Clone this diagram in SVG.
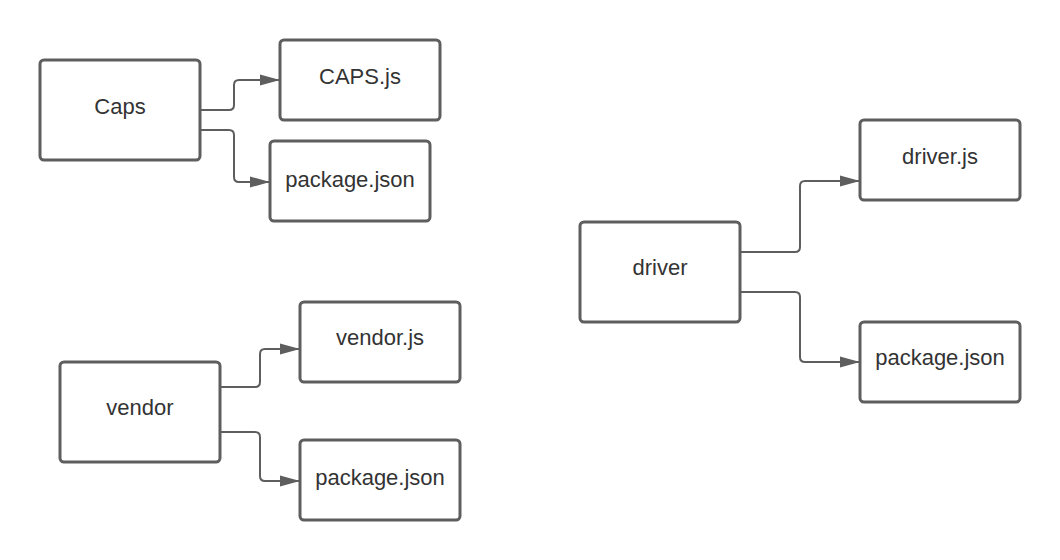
<svg xmlns="http://www.w3.org/2000/svg" width="1060" height="560" viewBox="0 0 1060 560">
<style>
.box{fill:#ffffff;stroke:#5e5e5e;stroke-width:3}
.lbl{font-family:"Liberation Sans",Arial,sans-serif;font-size:22px;fill:#333333;text-anchor:middle}
.edge{fill:none;stroke:#5e5e5e;stroke-width:2;stroke-linejoin:round}
</style>
<defs>
<marker id="arr" markerWidth="20" markerHeight="12" refX="20" refY="6" orient="auto" markerUnits="userSpaceOnUse">
<path d="M0,0.5 L20,6 L0,11.5 Z" fill="#5e5e5e"/>
</marker>
</defs>
<rect width="1060" height="560" fill="#ffffff"/>
<g id="connectors">
<path class="edge" marker-end="url(#arr)" d="M200,110 H229 Q234,110 234,105 V85 Q234,80 239,80 H280"/>
<path class="edge" marker-end="url(#arr)" d="M200,130 H229 Q234,130 234,135 V177 Q234,182 239,182 H270"/>
<path class="edge" marker-end="url(#arr)" d="M220,387 H255 Q260,387 260,382 V354 Q260,349 265,349 H300"/>
<path class="edge" marker-end="url(#arr)" d="M220,432 H255 Q260,432 260,437 V476 Q260,481 265,481 H300"/>
<path class="edge" marker-end="url(#arr)" d="M740,252 H795 Q800,252 800,247 V186 Q800,181 805,181 H860"/>
<path class="edge" marker-end="url(#arr)" d="M740,292 H795 Q800,292 800,297 V357 Q800,362 805,362 H860"/>
</g>
<g id="caps"><rect class="box" x="40" y="60" width="160" height="100" rx="4"/><text class="lbl" x="120" y="114">Caps</text></g>
<g id="caps-js"><rect class="box" x="280" y="40" width="160" height="80" rx="4"/><text class="lbl" x="360" y="84">CAPS.js</text></g>
<g id="caps-package"><rect class="box" x="270" y="141" width="160" height="80" rx="4"/><text class="lbl" x="350" y="187">package.json</text></g>
<g id="vendor"><rect class="box" x="60" y="362" width="160" height="100" rx="4"/><text class="lbl" x="140" y="415">vendor</text></g>
<g id="vendor-js"><rect class="box" x="300" y="302" width="160" height="80" rx="4"/><text class="lbl" x="380" y="345">vendor.js</text></g>
<g id="vendor-package"><rect class="box" x="300" y="440" width="160" height="80" rx="4"/><text class="lbl" x="380" y="485">package.json</text></g>
<g id="driver"><rect class="box" x="580" y="222" width="160" height="100" rx="4"/><text class="lbl" x="660" y="275">driver</text></g>
<g id="driver-js"><rect class="box" x="860" y="120" width="160" height="80" rx="4"/><text class="lbl" x="940" y="164">driver.js</text></g>
<g id="driver-package"><rect class="box" x="860" y="322" width="160" height="80" rx="4"/><text class="lbl" x="940" y="365">package.json</text></g>
</svg>
